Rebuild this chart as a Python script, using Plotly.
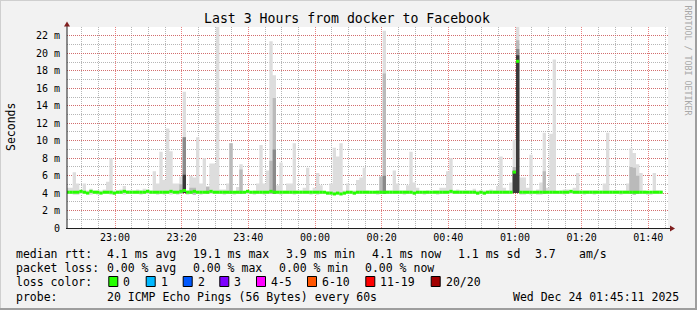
import pandas as pd
import plotly.graph_objects as go

# ---------------- data (one value per minute step) ----------------
start_time = "2025-12-23 22:45:18"

median_ms = [
    4.1, 4.1, 4.1, 4.1, 4.2, 4.1, 4.0, 4.2, 4.1, 4.1,
    4.0, 4.1, 4.1, 4.1, 4.0, 4.1, 4.1, 4.2, 4.1, 4.1,
    4.1, 4.1, 4.1, 4.1, 4.2, 4.1, 4.1, 4.1, 4.1, 4.1,
    4.1, 4.2, 4.1, 4.1, 4.2, 4.3, 4.1, 4.1, 4.2, 4.1,
    4.1, 4.1, 4.1, 4.2, 4.1, 4.1, 4.1, 4.1, 4.1, 4.1,
    4.1, 4.1, 4.1, 4.1, 4.2, 4.1, 4.1, 4.1, 4.1, 4.1,
    4.1, 4.2, 4.1, 4.1, 4.1, 4.1, 4.1, 4.1, 4.1, 4.1,
    4.1, 4.1, 4.1, 4.1, 4.1, 4.1, 4.1, 4.1, 4.0, 4.0,
    3.9, 4.0, 3.9, 4.0, 4.1, 4.1, 4.0, 4.1, 4.1, 4.1,
    4.1, 4.1, 4.1, 4.1, 4.1, 4.1, 4.1, 4.1, 4.1, 4.1,
    4.1, 4.1, 4.1, 4.1, 4.0, 4.1, 4.1, 4.1, 4.1, 4.1,
    4.1, 4.1, 4.1, 4.1, 4.1, 4.2, 4.1, 4.1, 4.1, 4.1,
    4.1, 4.1, 4.1, 4.0, 4.1, 4.0, 4.1, 4.1, 4.1, 4.1,
    4.1, 4.1, 4.1, 4.1, 6.4, 19.1, 4.1, 4.1, 4.1, 4.1,
    4.1, 4.1, 4.1, 4.1, 4.1, 4.1, 4.1, 4.1, 4.1, 4.1,
    4.1, 4.2, 4.1, 4.1, 4.1, 4.1, 4.1, 4.1, 4.1, 4.1,
    4.1, 4.1, 4.1, 4.1, 4.1, 4.1, 4.1, 4.1, 4.1, 4.1,
    4.1, 4.1, 4.1, 4.1, 4.1, 4.1, 4.1, 4.1, 4.1,
]

smoke_min = [
    3.9, 3.9, 3.8, 3.8, 3.9, 3.9, 3.9, 3.8, 3.9, 3.8,
    3.9, 3.9, 3.9, 3.8, 3.8, 3.9, 3.9, 3.8, 3.9, 3.9,
    3.9, 3.9, 3.8, 3.9, 3.9, 3.9, 3.9, 3.8, 3.9, 3.8,
    3.9, 3.8, 3.9, 3.8, 3.9, 4.0, 3.8, 3.9, 3.8, 3.9,
    3.8, 3.9, 3.9, 3.9, 3.9, 3.9, 3.9, 3.8, 3.9, 3.9,
    3.8, 3.9, 3.9, 3.9, 3.9, 3.9, 3.8, 3.9, 3.9, 3.8,
    3.9, 3.9, 3.9, 3.9, 3.8, 3.9, 3.9, 3.9, 3.8, 3.9,
    3.9, 3.9, 3.9, 3.8, 3.9, 3.8, 3.9, 3.9, 3.8, 3.8,
    3.8, 3.8, 3.8, 3.8, 3.9, 3.9, 3.8, 3.9, 3.9, 3.9,
    3.9, 3.9, 3.9, 3.8, 3.9, 3.9, 3.9, 3.9, 3.9, 3.9,
    3.9, 3.8, 3.9, 3.9, 3.8, 3.9, 3.9, 3.8, 3.9, 3.9,
    3.9, 3.8, 3.9, 3.9, 3.9, 3.9, 3.9, 3.9, 3.9, 3.9,
    3.9, 3.9, 3.9, 3.8, 3.9, 3.8, 3.9, 3.9, 3.9, 3.9,
    3.9, 3.9, 3.9, 3.9, 4.0, 4.0, 3.8, 3.8, 3.9, 3.8,
    3.9, 3.8, 3.8, 3.9, 3.9, 3.9, 3.9, 3.9, 3.9, 3.8,
    3.9, 3.9, 3.9, 3.9, 3.9, 3.8, 3.9, 3.9, 3.8, 3.9,
    3.9, 3.9, 3.9, 3.9, 3.9, 3.9, 3.8, 3.9, 3.9, 3.9,
    3.8, 3.9, 3.9, 3.9, 3.8, 3.8, 3.9, 3.9, 3.9,
]

smoke_max = [
    4.6, 4.6, 6.4, 5.1, 4.3, 5.1, 4.3, 4.5, 4.3, 4.3,
    4.3, 4.4, 5.3, 8.0, 4.3, 4.3, 4.4, 4.8, 4.3, 4.3,
    4.3, 4.4, 4.3, 4.5, 4.4, 4.3, 6.5, 5.1, 8.75, 5.5,
    11.4, 8.8, 5.1, 5.1, 5.9, 15.6, 4.3, 6.0, 5.8, 10.4,
    5.1, 8.0, 4.8, 7.4, 7.4, 23.5, 4.4, 4.4, 5.1, 9.7,
    4.2, 4.7, 7.3, 4.2, 4.3, 4.2, 4.3, 5.1, 9.5, 5.1,
    6.6, 21.4, 17.5, 4.9, 7.5, 4.3, 5.1, 5.1, 9.7, 4.3,
    4.3, 4.6, 6.9, 4.3, 4.6, 6.3, 4.9, 4.2, 4.2, 5.1,
    9.2, 8.2, 9.7, 4.3, 5.1, 4.2, 4.3, 5.5, 5.8, 6.9,
    4.3, 4.2, 4.2, 4.3, 5.9, 22.6, 4.3, 4.3, 6.6, 5.1,
    4.3, 4.3, 4.9, 8.75, 5.2, 4.6, 4.2, 4.2, 4.3, 4.2,
    4.3, 4.3, 4.6, 4.6, 6.5, 8.0, 4.3, 4.4, 4.3, 4.3,
    4.3, 4.3, 4.5, 4.3, 4.3, 4.3, 4.3, 4.4, 4.3, 4.8,
    8.2, 4.6, 4.3, 5.2, 10.1, 23.5, 5.8, 5.8, 4.6, 8.4,
    4.2, 4.4, 5.2, 10.9, 4.6, 10.8, 19.3, 4.2, 4.3, 4.4,
    4.4, 4.3, 4.6, 6.3, 4.3, 4.3, 4.3, 4.3, 4.3, 4.3,
    4.3, 5.1, 10.9, 4.3, 4.3, 4.3, 4.3, 4.3, 5.1, 9.1,
    8.6, 7.3, 6.3, 4.3, 4.2, 4.2, 6.3, 4.3, 4.3,
]

# inner (denser) smoke layers, only where visible
mid_idx = [34, 35, 37, 38, 42, 49, 52, 61, 62, 94, 95, 134, 135, 143, 169, 170, 171]
mid_top = [5.0, 10.4, 4.6, 4.6, 4.7, 9.7, 6.7, 7.7, 14.9, 5.9, 17.7, 7.0, 21.5, 6.5, 7.0, 6.9, 6.0]
dark_idx = [35, 62, 95, 134, 135]
dark_top = [10.4, 9.0, 6.0, 6.6, 20.5]
core_idx = [35, 134, 135]
core_top = [6.1, 6.5, 19.8]

y_tick_vals = [0, 2, 4, 6, 8, 10, 12, 14, 16, 18, 20, 22]
y_tick_text = ["0", "2 m", "4 m", "6 m", "8 m", "10 m", "12 m", "14 m", "16 m", "18 m", "20 m", "22 m"]

rtt_stats = ["4.1 ms avg", "19.1 ms max", "3.9 ms min", "4.1 ms now", "1.1 ms sd", "3.7", "am/s"]
loss_stats = ["0.00 % avg", "0.00 % max", "0.00 % min", "0.00 % now"]
loss_labels = ["0", "1", "2", "3", "4-5", "6-10", "11-19", "20/20"]
loss_colors = ["#26ff00", "#00b8ff", "#0059ff", "#7e00ff", "#ff00ff", "#ff5500", "#ff0000", "#a10000"]
probe_text = "20 ICMP Echo Pings (56 Bytes) every 60s"
stamp_text = "Wed Dec 24 01:45:11 2025"
title_text = "Last 3 Hours from docker to Facebook"

# ---------------- figure ----------------
W, H = 697, 310
L, R, T, B = 67, 29, 27, 82
PW, PH = W - L - R, H - T - B
FONT = "DejaVu Sans Mono"


def px(x):
    return (x - L) / PW


def py(y):
    return (H - B - y) / PH


n = len(median_ms)
times = list(pd.date_range(start_time, periods=n + 1, freq="1min"))
step = pd.Timedelta(minutes=1)

fig = go.Figure()


def band(lo, hi, color):
    fig.add_trace(go.Scatter(x=times, y=lo + [lo[-1]], mode="lines",
                             line=dict(width=0, shape="hv"), hoverinfo="skip", showlegend=False))
    fig.add_trace(go.Scatter(x=times, y=hi + [hi[-1]], mode="lines",
                             line=dict(width=0, shape="hv"), fill="tonexty", fillcolor=color,
                             hoverinfo="skip", showlegend=False))


band(smoke_min, smoke_max, "#dddddd")
for idx, tops, col in [(mid_idx, mid_top, "#bababa"), (dark_idx, dark_top, "#8a8a8a"),
                       (core_idx, core_top, "#3a3a3a")]:
    hi = list(smoke_min)
    for i, v in zip(idx, tops):
        hi[i] = v
    band(list(smoke_min), hi, col)

mx, my = [], []
for k, m in enumerate(median_ms):
    mx += [times[k], times[k] + step, None]
    my += [m, m, None]
fig.add_trace(go.Scatter(x=mx, y=my, mode="lines", line=dict(color=loss_colors[0], width=3),
                         hoverinfo="skip", showlegend=False))

grid_major = "rgba(222,79,79,0.7)"
grid_minor = "rgba(143,143,143,0.65)"

fig.update_layout(
    width=W, height=H,
    margin=dict(l=L, r=R, t=T, b=B),
    paper_bgcolor="#f2f2f2", plot_bgcolor="white",
    showlegend=False,
    font=dict(family=FONT, color="black"),
    xaxis=dict(type="date", range=["2025-12-23 22:45:36", "2025-12-24 01:45:54"],
               tick0="2025-12-23 23:00:00", dtick=20 * 60 * 1000, tickformat="%H:%M",
               showgrid=True, gridcolor=grid_major, griddash="1px,1px", gridwidth=1,
               minor=dict(tick0="2025-12-23 23:00:00", dtick=5 * 60 * 1000, showgrid=True,
                          gridcolor=grid_minor, griddash="1px,1px", gridwidth=1),
               showline=False, zeroline=False, ticks="", ticklabelstandoff=2,
               tickfont=dict(family=FONT, size=10, color="black"), fixedrange=True),
    yaxis=dict(range=[0, 23.03], tickmode="array", tickvals=y_tick_vals, ticktext=y_tick_text,
               showgrid=True, gridcolor=grid_major, griddash="1px,1px", gridwidth=1,
               minor=dict(tickmode="linear", tick0=0, dtick=1, showgrid=True,
                          gridcolor=grid_minor, griddash="1px,1px", gridwidth=1),
               showline=False, zeroline=False, ticks="", ticklabelstandoff=6,
               tickfont=dict(family=FONT, size=10, color="black"), fixedrange=True),
)

shapes = []
# frame
shapes.append(dict(type="rect", xref="paper", yref="paper", x0=px(0), x1=px(W), y0=py(0), y1=py(1),
                   fillcolor="#cfcfcf", line=dict(width=0), layer="above"))
shapes.append(dict(type="rect", xref="paper", yref="paper", x0=px(0), x1=px(1), y0=py(0), y1=py(H),
                   fillcolor="#cfcfcf", line=dict(width=0), layer="above"))
shapes.append(dict(type="rect", xref="paper", yref="paper", x0=px(0), x1=px(W), y0=py(H - 2), y1=py(H),
                   fillcolor="#9e9e9e", line=dict(width=0), layer="above"))
shapes.append(dict(type="rect", xref="paper", yref="paper", x0=px(W - 2), x1=px(W), y0=py(0), y1=py(H),
                   fillcolor="#9e9e9e", line=dict(width=0), layer="above"))
# axes
shapes.append(dict(type="line", xref="paper", yref="paper", x0=px(66), x1=px(670), y0=py(228.5), y1=py(228.5),
                   line=dict(color="#1f1f1f", width=1), layer="above"))
shapes.append(dict(type="line", xref="paper", yref="paper", x0=px(67), x1=px(67), y0=py(229), y1=py(25),
                   line=dict(color="#1f1f1f", width=1), layer="above"))
# arrows
shapes.append(dict(type="path", xref="paper", yref="paper",
                   path=f"M {px(64)},{py(26.5)} L {px(70)},{py(26.5)} L {px(67)},{py(21.5)} Z",
                   fillcolor="#801f1f", line=dict(width=0), layer="above"))
shapes.append(dict(type="path", xref="paper", yref="paper",
                   path=f"M {px(670)},{py(225.5)} L {px(670)},{py(231.5)} L {px(675)},{py(228.5)} Z",
                   fillcolor="#801f1f", line=dict(width=0), layer="above"))


def txt(s, x, y, size=11.5, xanchor="left", angle=0, color="black"):
    fig.add_annotation(text=s.replace(" ", "\u00a0"), x=px(x), y=py(y), xref="paper", yref="paper",
                       xanchor=xanchor, yanchor="middle", showarrow=False, textangle=angle,
                       borderpad=0, borderwidth=0,
                       font=dict(family=FONT, size=size, color=color))


txt(title_text, 347, 19, size=13.2, xanchor="center")
txt("Seconds", 11, 127, size=11.5, xanchor="center", angle=-90)
txt("RRDTOOL / TOBI OETIKER", 687.5, 60, size=8.3, xanchor="center", angle=90, color="#a8a8a8")

row_y = [254.3, 268.3, 282, 296.7]
txt("median rtt:", 16, row_y[0])
for s, x in zip(rtt_stats, [107.3, 193.3, 286, 372, 458.3, 535, 579.3]):
    txt(s, x, row_y[0])
txt("packet loss:", 16, row_y[1])
for s, x in zip(loss_stats, [107.3, 193.3, 279.3, 365]):
    txt(s, x, row_y[1])
txt("loss color:", 16, row_y[2])
for lab, col, x in zip(loss_labels, loss_colors, [108.3, 145.7, 182.7, 219.3, 256, 307, 365.3, 430.7]):
    shapes.append(dict(type="rect", xref="paper", yref="paper", x0=px(x + 0.5), x1=px(x + 9.5),
                       y0=py(276.5), y1=py(286.5), fillcolor=col, line=dict(color="black", width=1),
                       layer="above"))
    txt(lab, x + 15, row_y[2])
txt("probe:", 16, row_y[3])
txt(probe_text, 107.3, row_y[3])
txt(stamp_text, 512.7, row_y[3])

fig.update_layout(shapes=shapes)
fig.write_html("out.html")
